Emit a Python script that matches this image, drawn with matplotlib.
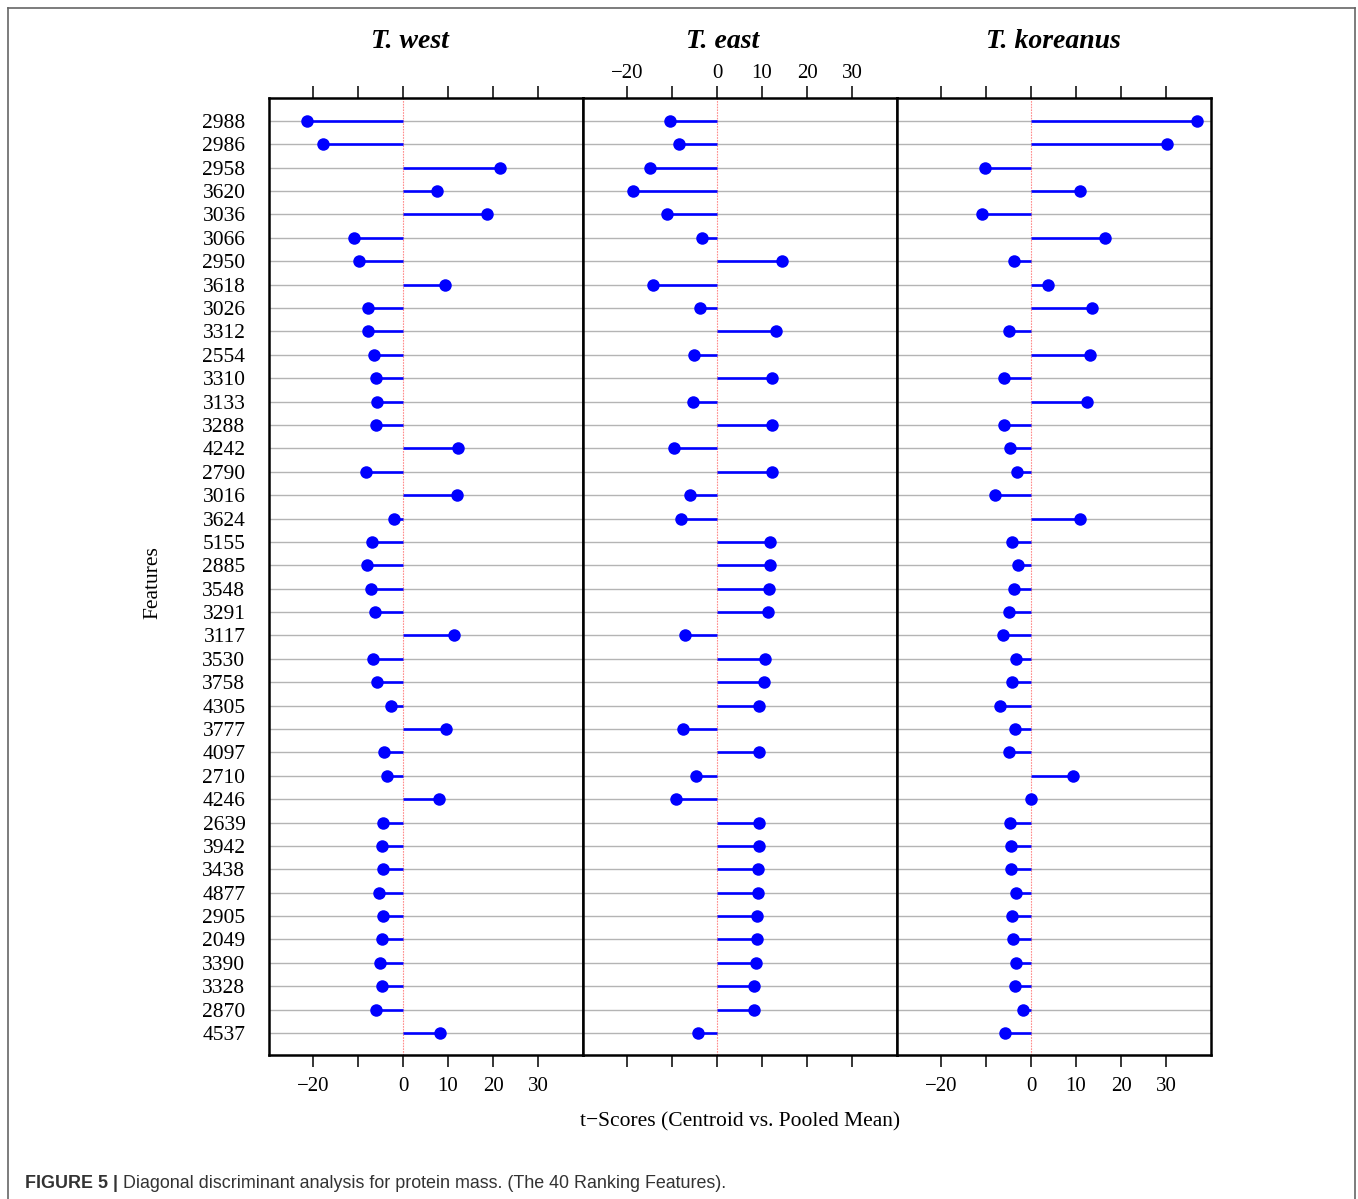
import matplotlib
matplotlib.use("Agg")
import matplotlib.pyplot as plt
from matplotlib.lines import Line2D
import numpy as np

features = ["2988", "2986", "2958", "3620", "3036", "3066", "2950", "3618", "3026", "3312",
            "2554", "3310", "3133", "3288", "4242", "2790", "3016", "3624", "5155", "2885",
            "3548", "3291", "3117", "3530", "3758", "4305", "3777", "4097", "2710", "4246",
            "2639", "3942", "3438", "4877", "2905", "2049", "3390", "3328", "2870", "4537"]

t_west = [-21.3, -17.8, 21.6, 7.6, 18.7, -10.9, -9.8, 9.3, -7.8, -7.8,
          -6.4, -6.0, -5.8, -6.0, 12.2, -8.2, 12.0, -2.0, -6.9, -8.0,
          -7.1, -6.2, 11.3, -6.7, -5.8, -2.7, 9.6, -4.2, -3.6, 8.0,
          -4.4, -4.7, -4.4, -5.3, -4.4, -4.7, -5.1, -4.7, -6.0, 8.2]

t_east = [-10.4, -8.4, -14.9, -18.7, -11.1, -3.3, 14.4, -14.2, -3.8, 13.1,
          -5.1, 12.2, -5.3, 12.2, -9.6, 12.2, -6.0, -8.0, 11.8, 11.8,
          11.6, 11.3, -7.1, 10.7, 10.4, 9.3, -7.6, 9.3, -4.7, -9.1,
          9.3, 9.3, 9.1, 9.1, 8.9, 8.9, 8.7, 8.2, 8.2, -4.2]

t_koreanus = [36.9, 30.2, -10.2, 10.9, -10.9, 16.4, -3.8, 3.8, 13.6, -4.9,
              13.1, -6.0, 12.4, -6.0, -4.7, -3.1, -8.0, 10.9, -4.2, -2.9,
              -3.8, -4.9, -6.2, -3.3, -4.2, -6.9, -3.6, -4.9, 9.3, 0.0,
              -4.7, -4.4, -4.4, -3.3, -4.2, -4.0, -3.3, -3.6, -1.8, -5.8]

panel_titles = ["T. west", "T. east", "T. koreanus"]
x_ticks = [-20, -10, 0, 10, 20, 30]
x_tick_labels = ["\u221220", "", "0", "10", "20", "30"]
x_label = "t\u2212Scores (Centroid vs. Pooled Mean)"
y_label = "Features"
caption_bold = "FIGURE 5 |"
caption_text = " Diagonal discriminant analysis for protein mass. (The 40 Ranking Features)."

series = [t_west, t_east, t_koreanus]

W, H = 1358, 1199
fig = plt.figure(figsize=(W / 100, H / 100), dpi=100)
serif = ["Liberation Serif", "DejaVu Serif"]

left_px, right_px, top_px, bot_px = 269, 1211, 98, 1055
pw = (right_px - left_px) / 3
ypos = np.arange(1, len(features) + 1)
title_x_px = [410, 723, 1053]

for k, vals in enumerate(series):
    x0 = left_px + k * pw
    ax = fig.add_axes([x0 / W, 1 - bot_px / H, pw / W, (bot_px - top_px) / H])
    ax.set_xlim(-29.8, 40.0)
    ax.set_ylim(40.94, 0.02)
    for y in ypos:
        ax.axhline(y, color="#b4b4b4", lw=1.0, zorder=1)
    ax.axvline(0, color="#ff8c8c", lw=0.8, ls=(0, (1.5, 1)), zorder=2)
    v = np.array(vals)
    ax.hlines(ypos, 0, v, color="#0000ff", lw=1.9, zorder=3)
    ax.plot(v, ypos, "o", color="#0000ff", ms=9.0, zorder=4, markeredgewidth=0)
    for s in ax.spines.values():
        s.set_linewidth(1.8)
        s.set_color("black")
    ax.set_xticks(x_ticks)
    ax.set_xticklabels(x_tick_labels, fontfamily=serif, fontsize=15)
    ax.tick_params(axis="x", direction="out", length=8.6, width=1.1,
                   pad=(2 if k == 1 else 7),
                   top=True, bottom=True,
                   labeltop=(k == 1), labelbottom=(k != 1))
    if k == 0:
        ax.set_yticks(ypos)
        ax.set_yticklabels(features, fontfamily=serif, fontsize=15.5)
        ax.tick_params(axis="y", length=0, pad=17)
    else:
        ax.set_yticks([])
    fig.text(title_x_px[k] / W, 1 - 41 / H, panel_titles[k], ha="center", va="center",
             fontfamily=serif, fontsize=20, fontweight="bold", fontstyle="italic")

fig.text(740 / W, 1 - 1122 / H, x_label, ha="center", va="center",
         fontfamily=serif, fontsize=15.5)
fig.text(153 / W, 1 - 583 / H, y_label, ha="center", va="center", rotation=90,
         fontfamily=serif, fontsize=15.5)

# caption
t1 = fig.text(25 / W, 1 - 1183 / H, caption_bold, ha="left", va="center",
              fontfamily=["Liberation Sans", "DejaVu Sans"], fontsize=12.9,
              fontweight="bold", color="#333333")
fig.canvas.draw()
bb = t1.get_window_extent()
fig.text(bb.x1 / W, 1 - 1183 / H, caption_text, ha="left", va="center",
         fontfamily=["Liberation Sans", "DejaVu Sans"], fontsize=12.9, color="#333333")

# outer frame (left, top, right)
frame_col = "#666666"
fig.add_artist(Line2D([8 / W, 8 / W], [0, 1 - 8 / H], transform=fig.transFigure,
                      color=frame_col, lw=1.2))
fig.add_artist(Line2D([8 / W, 1355 / W], [1 - 8 / H, 1 - 8 / H], transform=fig.transFigure,
                      color=frame_col, lw=1.2))
fig.add_artist(Line2D([1355 / W, 1355 / W], [0, 1 - 8 / H], transform=fig.transFigure,
                      color=frame_col, lw=1.2))

fig.savefig("out.png", dpi=100, facecolor="white")
